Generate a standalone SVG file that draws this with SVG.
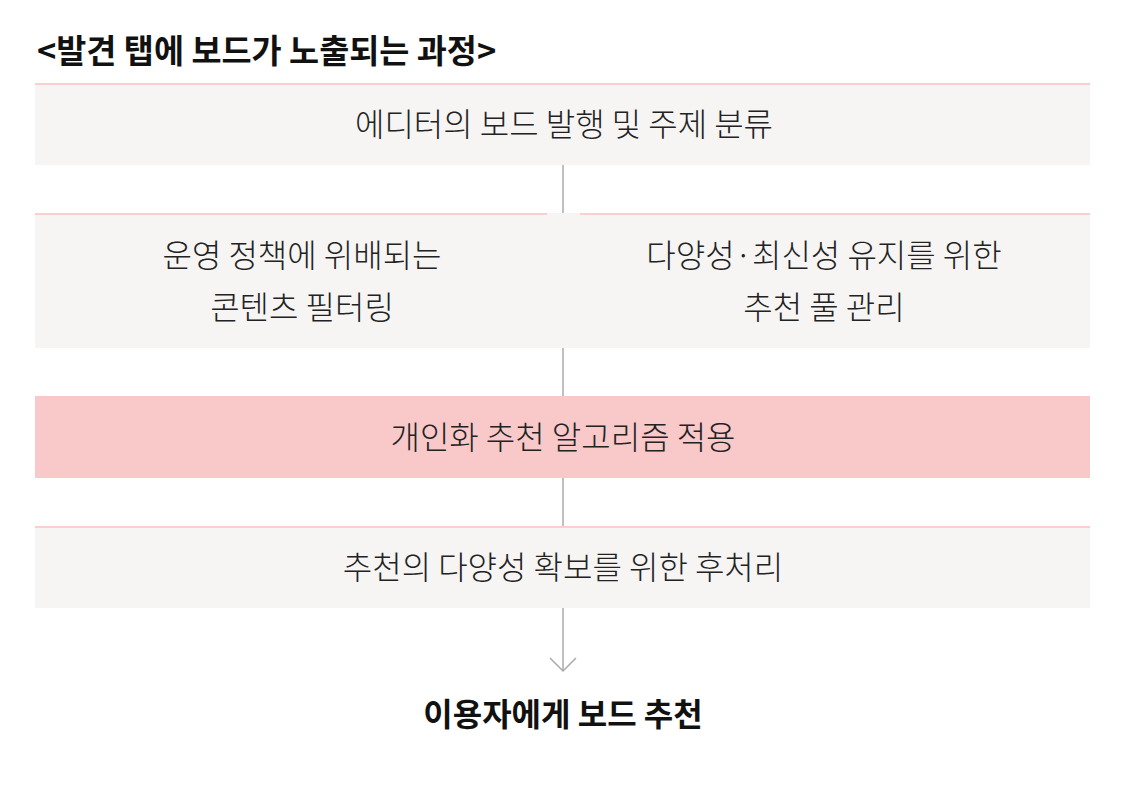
<svg xmlns="http://www.w3.org/2000/svg" width="1126" height="803" viewBox="0 0 1126 803">
<style>
.box{fill:#f6f5f4}
.hot{fill:#f9c8c9}
.rule{stroke:#f9cfcf;stroke-width:2;fill:none}
.t{font-family:"Noto Sans CJK KR","Noto Sans",sans-serif;font-size:32px;font-weight:300;fill:#222;text-anchor:middle}
.b{font-family:"Noto Sans CJK KR","Noto Sans",sans-serif;font-size:32px;font-weight:bold;fill:#111}
.conn{stroke:#aaaaaa;stroke-width:1.5;fill:none}
</style>
<rect width="1126" height="803" fill="#ffffff"/>
<text class="b" x="37" y="63" style="font-size:32.7px">&lt;발견 탭에 보드가 노출되는 과정&gt;</text>
<g id="n1">
<rect class="box" x="35" y="83" width="1055" height="82"/>
<line class="rule" x1="35" y1="84" x2="1090" y2="84"/>
<text class="t" x="564" y="136">에디터의 보드 발행 및 주제 분류</text>
</g>
<g id="n2">
<rect class="box" x="35" y="213" width="1055" height="135"/>
<line class="rule" x1="35" y1="214" x2="547" y2="214"/>
<text class="t" x="302" y="267">운영 정책에 위배되는</text>
<text class="t" x="302" y="319">콘텐츠 필터링</text>
</g>
<g id="n3">
<line class="rule" x1="580" y1="214" x2="1090" y2="214"/>
<text class="t" x="824" y="267">다양성·최신성 유지를 위한</text>
<text class="t" x="824" y="319">추천 풀 관리</text>
</g>
<g id="n4">
<rect class="hot" x="35" y="396" width="1055" height="82"/>
<text class="t" x="563" y="449">개인화 추천 알고리즘 적용</text>
</g>
<g id="n5">
<rect class="box" x="35" y="526" width="1055" height="82"/>
<line class="rule" x1="35" y1="527" x2="1090" y2="527"/>
<text class="t" x="563" y="579">추천의 다양성 확보를 위한 후처리</text>
</g>
<g id="n6">
<text class="b" x="563" y="726" text-anchor="middle">이용자에게 보드 추천</text>
</g>
<g id="connectors">
<line class="conn" x1="563" y1="165" x2="563" y2="213"/>
<line class="conn" x1="563" y1="348" x2="563" y2="396"/>
<line class="conn" x1="563" y1="478" x2="563" y2="526"/>
<line class="conn" x1="563" y1="608" x2="563" y2="671"/>
<polyline class="conn" points="550,658 563,671 576,658"/>
</g>
</svg>
